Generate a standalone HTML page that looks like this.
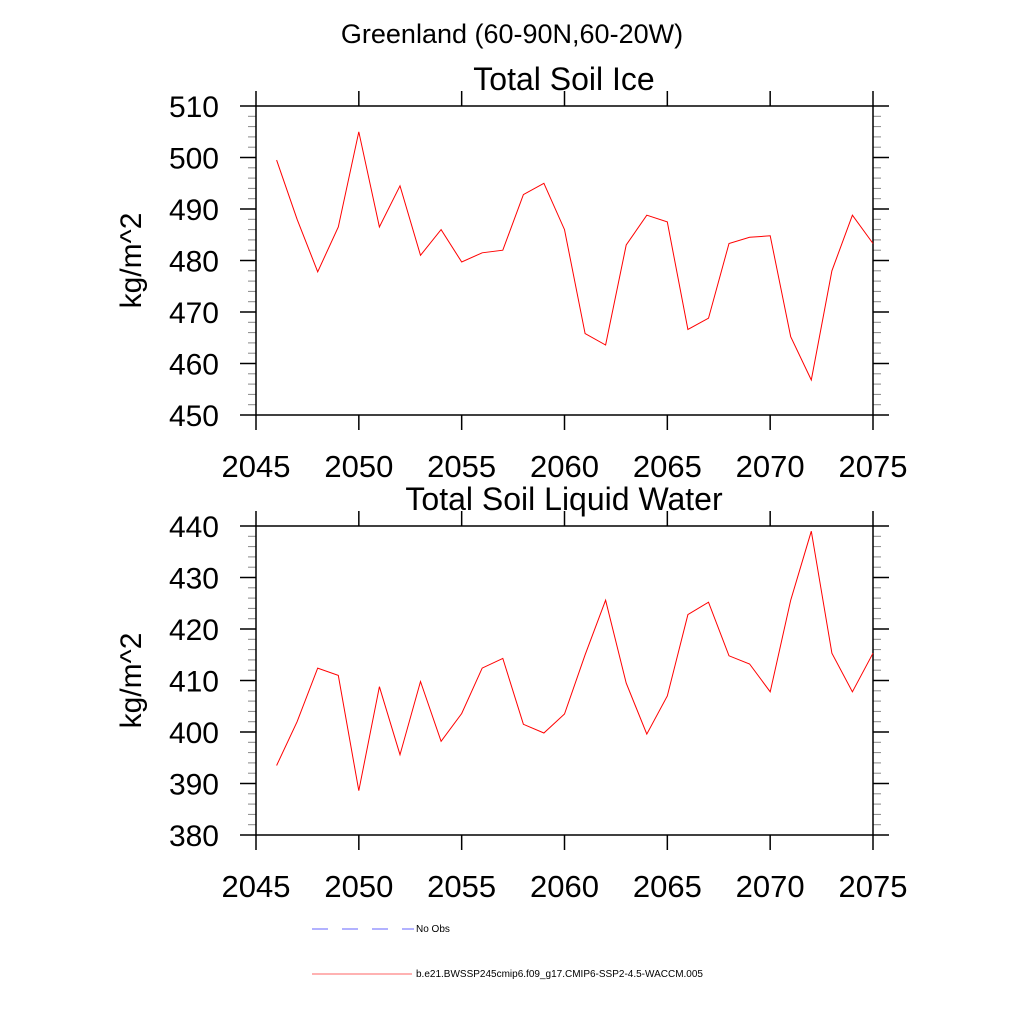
<!DOCTYPE html>
<html><head><meta charset="utf-8"><style>
html,body{margin:0;padding:0;background:#fff;}
svg{display:block;font-family:"Liberation Sans",sans-serif;}
</style></head><body>
<svg id="c" width="1024" height="1024" viewBox="0 0 1024 1024">
<text x="512" y="43" font-size="27" text-anchor="middle">Greenland (60-90N,60-20W)</text>
<g>
<line x1="312" y1="929" x2="414" y2="929" stroke="#66f" stroke-width="1" stroke-dasharray="16,14"/>
<text x="416" y="932" font-size="10">No Obs</text>
<line x1="312" y1="974" x2="412" y2="974" stroke="#f66" stroke-width="1"/>
<text x="416" y="977" font-size="10">b.e21.BWSSP245cmip6.f09_g17.CMIP6-SSP2-4.5-WACCM.005</text>
</g>
</svg>
<script>
const years = [2046,2047,2048,2049,2050,2051,2052,2053,2054,2055,2056,2057,2058,2059,2060,2061,2062,2063,2064,2065,2066,2067,2068,2069,2070,2071,2072,2073,2074,2075];
const iceValues = [499.5,488,477.8,486.5,505,486.5,494.5,481,486,479.7,481.5,482,492.8,495,486,465.8,463.6,483,488.8,487.5,466.6,468.8,483.3,484.5,484.8,465.2,456.8,478,488.8,483.3];
const liqValues = [393.5,402,412.4,411,388.6,408.8,395.6,409.8,398.2,403.6,412.4,414.3,401.5,399.8,403.5,415,425.6,409.5,399.6,407,422.8,425.2,414.8,413.2,407.8,425.6,439,415.3,407.8,415.3];
const xTicks = [2045,2050,2055,2060,2065,2070,2075];
const iceTicks = [450,460,470,480,490,500,510];
const liqTicks = [380,390,400,410,420,430,440];

const NS="http://www.w3.org/2000/svg";
const svg=document.getElementById('c');
function mk(tag,attrs,parent){const e=document.createElementNS(NS,tag);for(const k in attrs)e.setAttribute(k,attrs[k]);(parent||svg).appendChild(e);return e;}

function panel(top,title,yTicks,vals,key){
  const L=256,R=873,T=top,B=top+309;
  const xmin=2045,xmax=2075,ymin=yTicks[0],ymax=yTicks[yTicks.length-1];
  const xs=v=>L+(v-xmin)/(xmax-xmin)*(R-L);
  const ys=v=>B-(v-ymin)/(ymax-ymin)*(B-T);
  const g=mk('g',{});
  
  
  const t=mk('text',{x:564,y:T-16,'font-size':32,'text-anchor':'middle'},g);
  t.textContent=title;
  
  
  for(let v=ymin;v<=ymax+0.001;v+=2){
    const y=ys(v);
    const major=Math.abs((v-ymin)%10)<0.01;
    const len=major?16:8;
    const col=major?'#000':'#888';
    const sw=major?1.5:1;
    mk('line',{x1:L-len,y1:y,x2:L,y2:y,stroke:col,'stroke-width':sw},g);
    mk('line',{x1:R,y1:y,x2:R+len,y2:y,stroke:col,'stroke-width':sw},g);
  }
  xTicks.forEach(v=>{
    const x=xs(v);
    mk('line',{x1:x,y1:T-15,x2:x,y2:T,stroke:'#000','stroke-width':1.5},g);
    mk('line',{x1:x,y1:B,x2:x,y2:B+15,stroke:'#000','stroke-width':1.5},g);
    const tl=mk('text',{x:x,y:B+62,'font-size':31,'text-anchor':'middle'},g);
    tl.textContent=v;
    
    
  });
  yTicks.forEach(v=>{
    const tl=mk('text',{x:L-37,y:ys(v)+11,'font-size':30,'text-anchor':'end'},g);
    tl.textContent=v;
    
    
  });
  const fr=mk('rect',{x:L,y:T,width:R-L,height:B-T,fill:'none',stroke:'#000','stroke-width':1.5},g);
  
  
  const yt=mk('text',{x:0,y:0,'font-size':30,'text-anchor':'middle',transform:`translate(141,${(T+B)/2}) rotate(-90)`},g);
  yt.textContent='kg/m^2';
  
  
  const pts=vals.map((v,i)=>xs(years[i]).toFixed(1)+','+ys(v).toFixed(1)).join(' ');
  const ln=mk('polyline',{points:pts,fill:'none',stroke:'#f00','stroke-width':1},g);
  
  
}
panel(106,'Total Soil Ice',iceTicks,iceValues,'soil-ice');
panel(526,'Total Soil Liquid Water',liqTicks,liqValues,'soil-liquid');
</script>
</body></html>
